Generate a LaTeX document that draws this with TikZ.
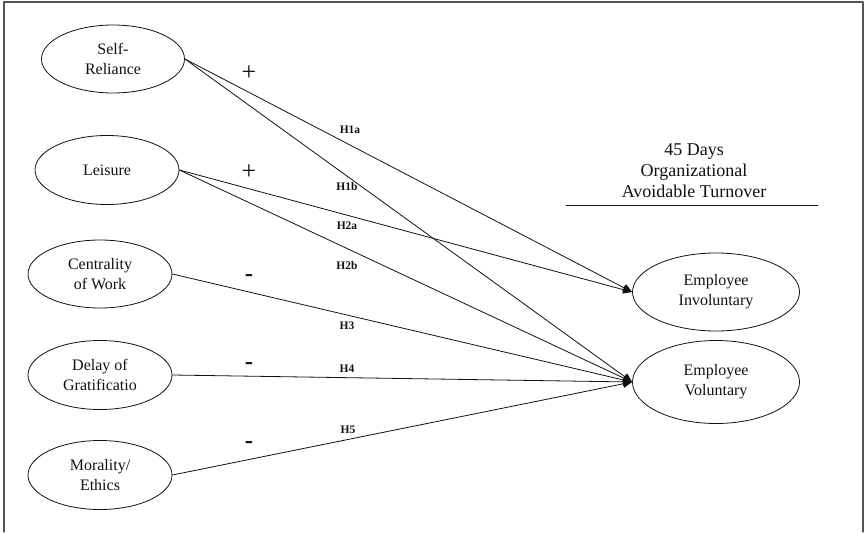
\documentclass[tikz,border=0pt]{standalone}
\usepackage{fontspec}
\setmainfont{Liberation Serif}
\usepackage{xcolor}
\usepackage{tikz}
\usetikzlibrary{arrows.meta,positioning,shapes.geometric}
\definecolor{ink}{HTML}{111111}
\definecolor{framegray}{HTML}{555555}
\tikzset{
    every picture/.style={line cap=round,line join=round},
    factor/.style={draw=ink,ellipse,line width=0.8pt,inner sep=0pt,
      minimum width=144pt,minimum height=69pt,
      font=\fontsize{16}{20}\selectfont,align=center,text=ink},
    outcome/.style={factor,minimum width=167pt,minimum height=80pt},
    pathline/.style={-{Triangle[length=9pt,width=8pt]},draw=ink,
      line width=0.8pt},
    hyplabel/.style={inner sep=0pt,text=ink,
      font=\fontsize{11.5}{13}\selectfont\bfseries},
    signlabel/.style={inner sep=0pt,text=ink,font=\fontsize{26}{26}\selectfont},
    neglabel/.style={inner sep=0pt,text=ink,font=\fontsize{25}{25}\selectfont\bfseries}
}

\begin{document}
\begin{tikzpicture}[x=1pt,y=-1pt]
  \useasboundingbox (0,0) rectangle (866,532);
  \draw[framegray,line width=1.2pt] (4,532) |- (863,2) -- (863,532);

  % predictors
  \node[factor,minimum width=143pt,minimum height=68pt] (self) at (113,59) {Self-\\Reliance};
  \node[factor] (leisure) at (107,170) {Leisure};
  \node[factor,minimum height=68pt] (central) at (100,274) {Centrality\\of Work};
  \node[factor] (delay) at (100,375) {Delay of\\Gratificatio};
  \node[factor] (moral) at (100,475) {Morality/\\Ethics};

  % outcomes
  \node[align=center,inner sep=0pt,text=ink,font=\fontsize{18}{21}\selectfont]
    (title) at (694,171) {45 Days\\Organizational\\Avoidable Turnover};
  \coordinate (ruleL) at (566,205);
  \coordinate (ruleR) at (818,205);
  \draw[ink,line width=0.8pt] (ruleL) -- (ruleR);
  \node[outcome,minimum height=78pt] (invol) at (716,292) {Employee\\Involuntary};
  \node[outcome,minimum height=83pt] (vol) at (716,382) {Employee\\Voluntary};

  % paths
  \draw[pathline] (self.east) -- (invol.west);
  \draw[pathline] (self.east) -- (vol.west);
  \draw[pathline] (leisure.east) -- (invol.west);
  \draw[pathline] (leisure.east) -- (vol.west);
  \draw[pathline] (central.east) -- (vol.west);
  \draw[pathline] (delay.east) -- (vol.west);
  \draw[pathline] (moral.east) -- (vol.west);

  % hypothesis labels
  \node[hyplabel] (h1a) at (350,130) {H1a};
  \node[hyplabel] (h1b) at (347,187) {H1b};
  \node[hyplabel] (h2a) at (347,226) {H2a};
  \node[hyplabel] (h2b) at (347,266) {H2b};
  \node[hyplabel] (h3) at (347,326) {H3};
  \node[hyplabel] (h4) at (347,369) {H4};
  \node[hyplabel] (h5) at (348,430) {H5};

  % signs
  \node[signlabel] (plusA) at (249,73) {+};
  \node[signlabel] (plusB) at (249,172) {+};
  \node[neglabel] (minA) at (249,278) {-};
  \node[neglabel] (minB) at (249,366) {-};
  \node[neglabel] (minC) at (249,445) {-};
\end{tikzpicture}
\end{document}
